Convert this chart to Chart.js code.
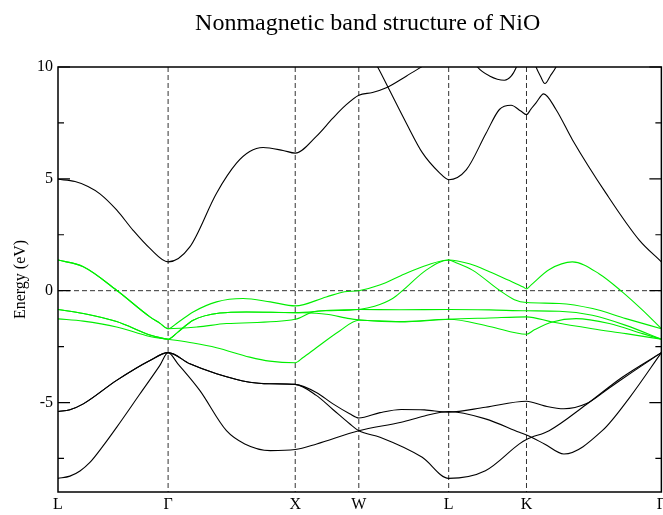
<!DOCTYPE html>
<html>
<head>
<meta charset="utf-8">
<script src="https://cdn.jsdelivr.net/npm/chart.js@4/dist/chart.umd.min.js"></script>
<style>
  html, body { margin: 0; padding: 0; background: #fff; overflow: hidden; }
  #wrap { position: relative; width: 669px; height: 515px; }
</style>
</head>
<body>
<div id="wrap"><canvas id="bands"></canvas></div>
<script>
// k-path: L - Gamma - X - W - L - K - Gamma (path length units)
const kLabels = ['L', 'Γ', 'X', 'W', 'L', 'K', 'Γ'];
const kTicks = [0, 0.866, 1.866, 2.366, 3.073, 3.685, 4.746];
const yTicks = [-7.5, -5, -2.5, 0, 2.5, 5, 7.5, 10];

// lower black bands [k, E(eV)]
const low1 = [[0,-8.39],[0.094,-8.29],[0.173,-8.06],[0.251,-7.68],[0.356,-6.93],[0.461,-6.11],[0.644,-4.62],[0.80,-3.35],[0.866,-2.77],
  [0.943,-3.27],[1.115,-4.46],[1.325,-6.26],[1.469,-6.85],[1.670,-7.15],[1.866,-7.1],[2.035,-6.85],[2.366,-6.26],
  [2.700,-5.88],[2.883,-5.6],[3.073,-5.4],[3.362,-5.73],[3.629,-6.33],[3.685,-6.45],[3.826,-6.85],[3.979,-7.3],
  [4.281,-6.26],[4.493,-4.8],[4.746,-2.77]];
const low2 = [[0,-5.4],[0.094,-5.32],[0.199,-5.06],[0.461,-4.01],[0.723,-3.12],[0.866,-2.77],
  [1.037,-3.27],[1.247,-3.71],[1.508,-4.09],[1.665,-4.16],[1.866,-4.19],[2.032,-4.68],[2.160,-5.3],[2.294,-5.95],[2.366,-6.26],
  [2.533,-6.55],[2.865,-7.45],[3.073,-8.39],[3.362,-8.05],[3.629,-6.85],[3.685,-6.65],[3.863,-6.26],
  [4.153,-5.1],[4.438,-3.87],[4.746,-2.77]];
const low3 = [[0,-5.4],[0.094,-5.32],[0.199,-5.06],[0.461,-4.01],[0.723,-3.12],[0.866,-2.77],
  [1.037,-3.27],[1.247,-3.71],[1.508,-4.09],[1.665,-4.16],[1.866,-4.19],[2.032,-4.55],[2.160,-5.05],[2.294,-5.5],[2.366,-5.69],
  [2.533,-5.45],[2.700,-5.31],[2.883,-5.33],[3.073,-5.43],[3.362,-5.21],[3.685,-4.94],[3.826,-5.15],[3.979,-5.28],
  [4.153,-5.06],[4.336,-4.35],[4.517,-3.64],[4.746,-2.77]];

// green d bands
const dA = [[0,1.37],[0.199,1.07],[0.461,0.02],[0.723,-1.17],[0.80,-1.45],[0.866,-1.70],[0.943,-1.42],[1.063,-0.95],
  [1.247,-0.5],[1.456,-0.35],[1.670,-0.5],[1.866,-0.68],[2.110,-0.28],[2.254,-0.05],[2.366,0.0],[2.530,0.25],[2.726,0.75],
  [2.907,1.15],[3.073,1.37],[3.236,1.2],[3.394,0.85],[3.551,0.45],[3.66,0.16],[3.685,0.08],[3.72,0.25],[3.865,0.95],
  [4.046,1.29],[4.258,0.75],[4.438,-0.05],[4.598,-0.87],[4.746,-1.70]];
const dB = [[0,-0.84],[0.199,-1.02],[0.461,-1.38],[0.723,-1.98],[0.80,-2.1],[0.866,-2.17],[0.943,-1.85],[1.063,-1.32],
  [1.273,-1.0],[1.482,-0.95],[1.866,-0.98],[2.110,-0.9],[2.366,-0.84],[2.49,-0.7],[2.632,-0.35],[2.710,0.0],
  [2.896,0.92],[3.073,1.37],[3.131,1.25],[3.260,0.92],[3.472,0.02],[3.590,-0.4],[3.685,-0.53],[3.943,-0.57],
  [4.205,-0.8],[4.467,-1.25],[4.746,-1.70]];
const dC = [[0,-1.26],[0.199,-1.36],[0.461,-1.62],[0.723,-2.05],[0.866,-2.17],[1.063,-2.34],[1.247,-2.55],[1.508,-2.97],
  [1.665,-3.15],[1.866,-3.22],[1.925,-3.0],[2.032,-2.55],[2.215,-1.8],[2.366,-1.32],[2.687,-1.38],[3.073,-1.28],
  [3.394,-1.6],[3.685,-1.95],[3.747,-1.75],[3.888,-1.4],[4.075,-1.25],[4.336,-1.47],[4.598,-1.92],[4.746,-2.17]];
const dD = [[0,-0.84],[0.199,-1.02],[0.461,-1.38],[0.723,-1.98],[0.80,-2.1],[0.866,-2.17],[0.943,-1.85],[1.063,-1.32],
  [1.273,-1.0],[1.482,-0.95],[1.866,-0.98],[2.110,-1.05],[2.294,-1.25],[2.366,-1.3],[2.687,-1.4],[3.073,-1.28],
  [3.394,-1.22],[3.685,-1.17],[3.888,-1.4],[4.203,-1.7],[4.467,-1.92],[4.746,-2.17]];
const dE = [[0,1.37],[0.199,1.07],[0.461,0.02],[0.723,-1.17],[0.80,-1.45],[0.866,-1.70],[1.1,-1.62],[1.325,-1.47],
  [1.866,-1.28],[2.003,-0.95],[2.137,-0.88],[2.366,-0.84],[2.687,-0.85],[3.073,-0.84],[3.394,-0.86],[3.685,-0.9],
  [3.943,-0.92],[4.203,-1.1],[4.467,-1.55],[4.746,-2.17]];

// upper black bands (parts above 10 eV are clipped)
const up1 = [[0,4.98],[0.134,4.88],[0.236,4.66],[0.33,4.33],[0.461,3.61],[0.589,2.71],[0.723,1.89],[0.866,1.29],[1.037,1.96],
  [1.247,4.36],[1.404,5.70],[1.508,6.22],[1.613,6.40],[1.770,6.27],[1.866,6.15],[2.032,6.9],[2.160,7.7],[2.255,8.25],
  [2.366,8.74],[2.474,8.86],[2.582,9.07],[2.739,9.59],[2.857,10.0],[3.0,10.5]];
const up2 = [[2.45,10.6],[2.514,10.0],[2.592,9.14],[2.739,7.5],[2.867,6.16],[3.001,5.27],[3.073,4.96],[3.211,5.4],
  [3.368,7.05],[3.472,8.1],[3.564,8.29],[3.64,8.03],[3.685,7.87],[3.72,8.12],[3.760,8.4],[3.820,8.8],[3.917,8.1],
  [4.046,6.75],[4.310,4.36],[4.572,2.26],[4.746,1.29]];
const up3 = [[3.236,10.6],[3.299,10.0],[3.394,9.6],[3.511,9.41],[3.566,9.6],[3.606,10.0],[3.645,10.6]];
const up4 = [[3.723,10.6],[3.760,10.0],[3.794,9.6],[3.830,9.26],[3.872,9.6],[3.917,10.0],[3.959,10.6]];

const black = '#000000';
const green = '#00ee00';
const serif = '"Liberation Serif", "Times New Roman", serif';

function band(points, color) {
  return {
    data: points.map(p => ({ x: p[0], y: p[1] })),
    borderColor: color,
    borderWidth: 1.1,
    pointRadius: 0,
    fill: false,
    cubicInterpolationMode: 'monotone'
  };
}

// dashed guides, frame, inward ticks and title
const framePlugin = {
  id: 'framePlugin',
  beforeDatasetsDraw(chart) {
    const { ctx, chartArea: a, scales } = chart;
    ctx.save();
    ctx.strokeStyle = '#333';
    ctx.lineWidth = 1;
    ctx.setLineDash([5, 3]);
    kTicks.slice(1, -1).forEach(k => {
      const x = scales.x.getPixelForValue(k);
      ctx.beginPath();
      ctx.moveTo(x, a.top);
      ctx.lineTo(x, a.bottom);
      ctx.stroke();
    });
    const y0 = scales.y.getPixelForValue(0);
    ctx.beginPath();
    ctx.moveTo(a.left, y0);
    ctx.lineTo(a.right, y0);
    ctx.stroke();
    ctx.restore();
  },
  afterDatasetsDraw(chart) {
    const { ctx, chartArea: a, scales } = chart;
    ctx.save();
    ctx.strokeStyle = '#000';
    ctx.lineWidth = 1.5;
    ctx.strokeRect(a.left, a.top, a.right - a.left, a.bottom - a.top);
    ctx.lineWidth = 1.2;
    yTicks.forEach(v => {
      const y = scales.y.getPixelForValue(v);
      const len = v % 5 === 0 ? 12 : 6;
      ctx.beginPath();
      ctx.moveTo(a.left, y);
      ctx.lineTo(a.left + len, y);
      ctx.moveTo(a.right, y);
      ctx.lineTo(a.right - len, y);
      ctx.stroke();
    });
    ctx.fillStyle = '#000';
    ctx.font = '24px ' + serif;
    ctx.textAlign = 'center';
    ctx.textBaseline = 'alphabetic';
    ctx.fillText('Nonmagnetic band structure of NiO', (a.left + a.right) / 2 + 8, 30);
    ctx.restore();
  }
};

new Chart(document.getElementById('bands'), {
  type: 'line',
  data: {
    datasets: [
      band(up1, black), band(up2, black), band(up3, black), band(up4, black),
      band(low1, black), band(low2, black), band(low3, black),
      band(dA, green), band(dB, green), band(dC, green), band(dD, green), band(dE, green)
    ]
  },
  options: {
    responsive: true,
    maintainAspectRatio: false,
    animation: false,
    layout: { padding: { top: 67, right: 0, bottom: 0, left: 0 } },
    plugins: { legend: { display: false }, tooltip: { enabled: false }, title: { display: false } },
    scales: {
      x: {
        type: 'linear',
        min: 0,
        max: 4.746,
        afterBuildTicks: s => { s.ticks = kTicks.map(v => ({ value: v })); },
        afterFit: s => { s.height = 23; },
        grid: { display: false, drawTicks: false },
        border: { display: false },
        ticks: {
          autoSkip: false,
          maxRotation: 0,
          padding: 3,
          color: '#000',
          font: { family: serif, size: 16 },
          callback: (v, i) => kLabels[i]
        }
      },
      y: {
        type: 'linear',
        min: -9,
        max: 10,
        afterBuildTicks: s => { s.ticks = yTicks.map(v => ({ value: v })); },
        afterFit: s => { s.width = 58; },
        grid: { display: false, drawTicks: false },
        border: { display: false },
        ticks: {
          padding: 5,
          color: '#000',
          font: { family: serif, size: 16 },
          callback: v => (v % 5 === 0 ? String(v) : '')
        },
        title: {
          display: true,
          text: 'Energy (eV)',
          color: '#000',
          font: { family: serif, size: 16 },
          padding: { top: 11, bottom: 0 }
        }
      }
    }
  },
  plugins: [framePlugin]
});
</script>
</body>
</html>
